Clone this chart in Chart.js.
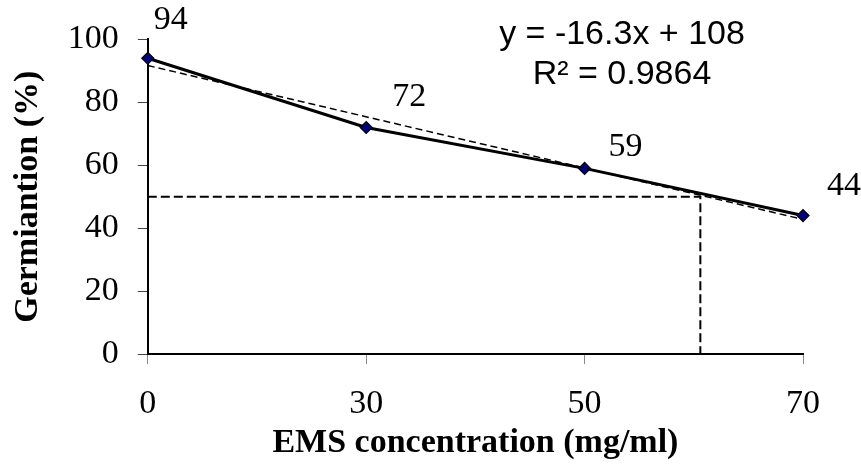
<!DOCTYPE html>
<html>
<head>
<meta charset="utf-8">
<script src="https://cdn.jsdelivr.net/npm/chart.js@4.4.1/dist/chart.umd.min.js"></script>
<style>
  html, body { margin: 0; padding: 0; background: #fff; }
  #wrap { width: 861px; height: 472px; position: relative; }
</style>
</head>
<body>
<div id="wrap"><canvas id="germChart"></canvas></div>
<script>
// EMS concentration categories (mg/ml) and germination (%)
const concLabels = ['0', '30', '50', '70'];
const germination = [94, 72, 59, 44];
const yTicks = [0, 20, 40, 60, 80, 100];

// linear trendline as printed on the chart (x = 1..4)
const trendSlope = -16.3;
const trendIntercept = 108;
const trendText = ['y = -16.3x + 108', 'R\u00b2 = 0.9864'];

// 50% germination cut-off and where it meets the trendline (category index)
const cutoffY = 50;
const cutoffX = 2.53;

const serif = "'Liberation Serif', 'Times New Roman', serif";
const sans = "'Liberation Sans', Arial, sans-serif";

const mainPoints = germination.map((v, i) => ({ x: i, y: v }));
const trendPoints = [0, concLabels.length - 1].map(i => ({ x: i, y: trendSlope * (i + 1) + trendIntercept }));
const cutoffPoints = [{ x: 0, y: cutoffY }, { x: cutoffX, y: cutoffY }, { x: cutoffX, y: 0 }];

// value labels next to each marker + the equation box
const labelsPlugin = {
    id: 'labels',
    afterDatasetsDraw(chart) {
        const ctx = chart.ctx;
        const meta = chart.getDatasetMeta(2);
        const shift = [[6, -38], [26, -30], [24, -21], [24, -29]];
        ctx.save();
        ctx.fillStyle = '#000';
        ctx.font = '34px ' + serif;
        ctx.textAlign = 'left';
        ctx.textBaseline = 'middle';
        meta.data.forEach((pt, i) => {
            ctx.fillText(String(germination[i]), pt.x + shift[i][0], pt.y + shift[i][1]);
        });
        ctx.font = '34px ' + sans;
        ctx.textAlign = 'center';
        ctx.fillText(trendText[0], 622, 35);
        ctx.fillText(trendText[1], 622, 75);
        ctx.restore();
    }
};

new Chart(document.getElementById('germChart'), {
    type: 'line',
    data: {
        datasets: [
            {
                label: 'cutoff',
                data: cutoffPoints,
                borderColor: '#000',
                borderWidth: 2,
                borderDash: [9, 4],
                pointRadius: 0,
                fill: false
            },
            {
                label: 'trend',
                data: trendPoints,
                borderColor: '#000',
                borderWidth: 1.5,
                borderDash: [7, 4],
                pointRadius: 0,
                fill: false
            },
            {
                label: 'Germination',
                data: mainPoints,
                borderColor: '#000',
                borderWidth: 3,
                pointStyle: 'rectRot',
                pointRadius: 6,
                pointBackgroundColor: '#000080',
                pointBorderColor: '#000',
                pointBorderWidth: 1.2,
                fill: false,
                tension: 0,
                clip: false
            }
        ]
    },
    options: {
        responsive: true,
        maintainAspectRatio: false,
        animation: false,
        layout: { padding: { top: 28, right: 58, left: 8, bottom: 0 } },
        plugins: {
            legend: { display: false },
            tooltip: { enabled: false }
        },
        scales: {
            x: {
                type: 'linear',
                min: 0,
                max: concLabels.length - 1,
                afterBuildTicks: axis => {
                    axis.ticks = concLabels.map((_, i) => ({ value: i }));
                },
                afterFit: axis => { axis.height = 118; },
                ticks: {
                    callback: v => concLabels[v],
                    font: { family: serif, size: 34 },
                    color: '#000',
                    padding: 20,
                    maxRotation: 0
                },
                grid: { drawOnChartArea: false, drawTicks: true, tickLength: 10, color: '#888', lineWidth: 1 },
                border: { color: '#000', width: 2 },
                title: {
                    display: true,
                    text: 'EMS concentration (mg/ml)',
                    font: { family: serif, size: 34, weight: 'bold' },
                    color: '#000',
                    padding: { top: 0, bottom: 8 }
                }
            },
            y: {
                min: 0,
                max: 100,
                afterBuildTicks: axis => {
                    axis.ticks = yTicks.map(v => ({ value: v }));
                },
                ticks: {
                    font: { family: serif, size: 34 },
                    color: '#000',
                    padding: 19
                },
                grid: { drawOnChartArea: false, drawTicks: true, tickLength: 10, color: '#444', lineWidth: 1 },
                border: { color: '#000', width: 2 },
                title: {
                    display: true,
                    text: 'Germiantion (%)',
                    font: { family: serif, size: 34, weight: 'bold' },
                    color: '#000',
                    padding: { top: 0, bottom: 0 }
                }
            }
        }
    },
    plugins: [labelsPlugin]
});
</script>
</body>
</html>
